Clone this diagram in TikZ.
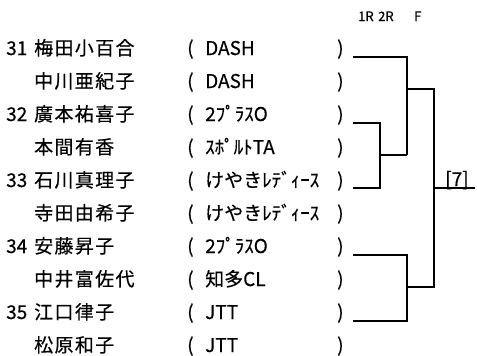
\documentclass[tikz,border=0pt]{standalone}
\usepackage{fontspec}
\setmainfont{Noto Sans CJK JP}[FakeBold=0.4]
\newfontfamily\namefont{Noto Sans CJK JP}[LetterSpace=7,FakeBold=0.4]

\begin{document}
\begin{tikzpicture}[x=1pt, y=-1pt,
        entry/.style={
            % The box:
            inner sep=0pt,
            anchor=base west,
            % Font
            font=\fontsize{19}{19}\selectfont
        },
        header/.style={
            inner sep=0pt,
            anchor=base west,
            font=\fontsize{13}{13}\selectfont
        },
        bracket/.style={
            % The line:
            line width=1.8pt,
            draw=black
        }]

        \useasboundingbox (0,0) rectangle (477,356);

        \foreach \i/\num/\name/\team in {0/31/梅田小百合/DASH, 1//中川亜紀子/DASH,
            2/32/廣本祐喜子/2ﾌﾟﾗｽO, 3//本間有香/ｽﾎﾟﾙﾄTA, 4/33/石川真理子/けやきﾚﾃﾞｨｰｽ,
            5//寺田由希子/けやきﾚﾃﾞｨｰｽ, 6/34/安藤昇子/2ﾌﾟﾗｽO, 7//中井富佐代/知多CL,
            8/35/江口律子/JTT, 9//松原和子/JTT}
        {
            \node [entry] (num\i)  at (6, 55+33*\i) {\num};
            \node [entry, font=\fontsize{19}{19}\selectfont\namefont] (name\i) at (34, 55+33*\i) {\name};
            \node [entry] (lp\i)   at (187, 55+33*\i) {(};
            \node [entry] (team\i) at (205, 55+33*\i) {\team};
            \node [entry] (rp\i)   at (337, 55+33*\i) {)};
        }

        % Round headings
        \node [header] (hdr1) at (358,21) {1R};
        \node [header] (hdr2) at (378,21) {2R};
        \node [header] (hdrF) at (414,21) {F};

        % Line starts and joints
        \coordinate (r31) at (353,57);
        \coordinate (r32) at (353,123);
        \coordinate (r33) at (353,188);
        \coordinate (r34) at (353,255);
        \coordinate (r35) at (353,321);
        \coordinate (k1) at (407,155);
        \coordinate (k2) at (380,155);
        \coordinate (k3) at (407,89);
        \coordinate (k4) at (407,287);
        \coordinate (k5) at (434,188);
        \coordinate (k6) at (475,188);

        \node [entry] (seven) at (445,186) {[7]};

        \draw [bracket] (r31) -| (k1);
        \draw [bracket] (r32) -| (k2) |- (r33);
        \draw [bracket] (k2) -- (k1);
        \draw [bracket] (r34) -| (k4) |- (r35);
        \draw [bracket] (k3) -| (k5) |- (k4);
        \draw [bracket] (k5) -- (k6);

    \end{tikzpicture}
\end{document}
